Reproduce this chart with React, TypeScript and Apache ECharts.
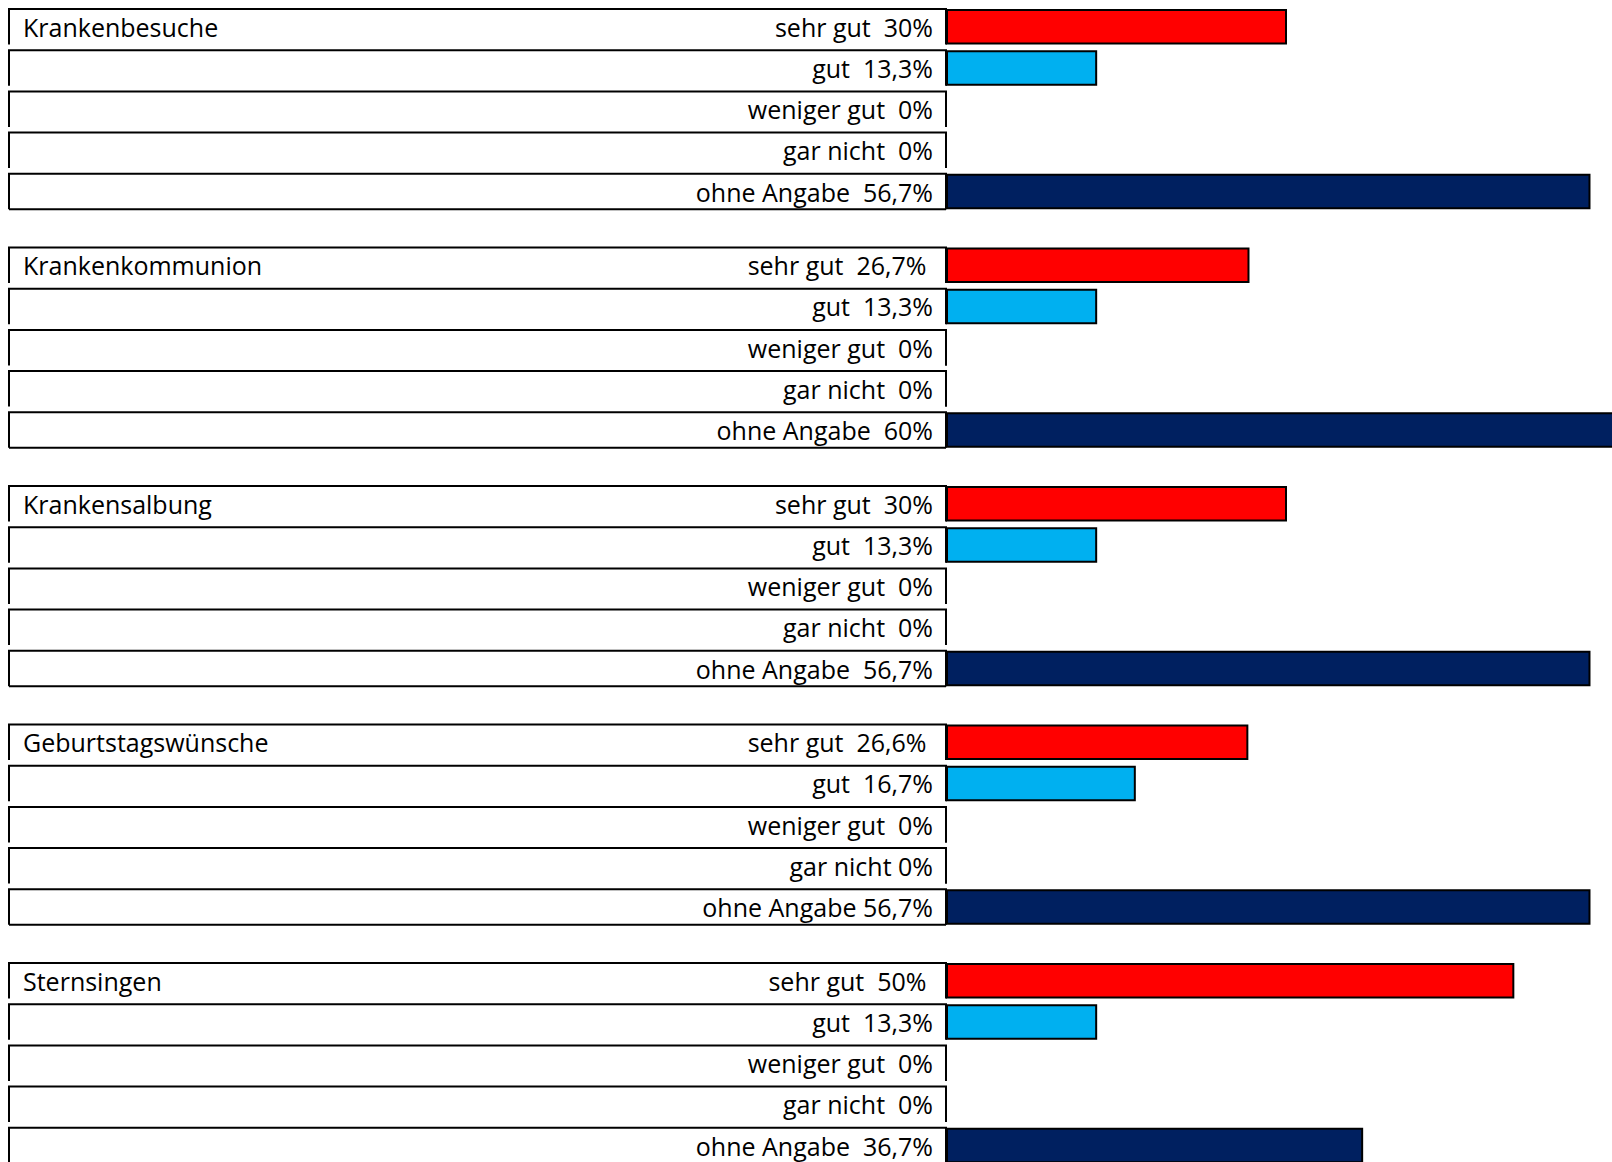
import React, { useEffect, useRef } from "react";
import * as echarts from "echarts";

// ---- data ----
const groupNames = [
  "Krankenbesuche",
  "Krankenkommunion",
  "Krankensalbung",
  "Geburtstagswünsche",
  "Sternsingen",
];
const ratings = ["sehr gut", "gut", "weniger gut", "gar nicht", "ohne Angabe"];

const krankenbesucheValues = [30, 13.3, 0, 0, 56.7];
const krankenkommunionValues = [26.7, 13.3, 0, 0, 60];
const krankensalbungValues = [30, 13.3, 0, 0, 56.7];
const geburtstagswuenscheValues = [26.6, 16.7, 0, 0, 56.7];
const sternsingenValues = [50, 13.3, 0, 0, 36.7];

const krankenbesucheLabels = ["sehr gut  30%", "gut  13,3%", "weniger gut  0%", "gar nicht  0%", "ohne Angabe  56,7%"];
const krankenkommunionLabels = ["sehr gut  26,7% ", "gut  13,3%", "weniger gut  0%", "gar nicht  0%", "ohne Angabe  60%"];
const krankensalbungLabels = ["sehr gut  30%", "gut  13,3%", "weniger gut  0%", "gar nicht  0%", "ohne Angabe  56,7%"];
const geburtstagswuenscheLabels = ["sehr gut  26,6% ", "gut  16,7%", "weniger gut  0%", "gar nicht 0%", "ohne Angabe 56,7%"];
const sternsingenLabels = ["sehr gut  50% ", "gut  13,3%", "weniger gut  0%", "gar nicht  0%", "ohne Angabe  36,7%"];

const groupValues = [
  krankenbesucheValues,
  krankenkommunionValues,
  krankensalbungValues,
  geburtstagswuenscheValues,
  sternsingenValues,
];
const groupLabels = [
  krankenbesucheLabels,
  krankenkommunionLabels,
  krankensalbungLabels,
  geburtstagswuenscheLabels,
  sternsingenLabels,
];
const barColors = ["#FF0000", "#00B0F0", "#FFC000", "#A5A5A5", "#002060"];

// ---- layout ----
const FONT = '"Open Sans", sans-serif';
const FIRST_TOP = 9;
const GROUP_PITCH = 238.5;
const ROW_PITCH = 41.2;
const BOX_H = 35.5;
const CELL_LEFT = 9;
const AXIS_X = 946;
const PLOT_W = 682;

export default function App() {
  const ref = useRef<HTMLDivElement>(null);

  useEffect(() => {
    document.body.style.margin = "0";
    const chart = echarts.init(ref.current as HTMLDivElement, null, { renderer: "svg" });

    const grids: any[] = [];
    const xAxes: any[] = [];
    const yAxes: any[] = [];
    const series: any[] = [];
    const textStyle = { fontFamily: FONT, fontSize: 25, color: "#000", lineHeight: 30 };

    groupNames.forEach((name, g) => {
      const rowTop = FIRST_TOP + g * GROUP_PITCH;
      grids.push({
        left: AXIS_X,
        width: PLOT_W,
        top: rowTop - (ROW_PITCH - BOX_H) / 2,
        height: ROW_PITCH * ratings.length,
        containLabel: false,
        outerBoundsMode: "none",
      });
      xAxes.push({ gridIndex: g, type: "value", min: 0, max: 60, show: false });
      yAxes.push({
        gridIndex: g,
        type: "category",
        inverse: true,
        data: ratings,
        axisLine: { show: false },
        axisTick: { show: false },
        splitLine: { show: false },
        axisLabel: {
          interval: 0,
          margin: 13,
          width: 910,
          align: "right",
          formatter: (_v: string, i: number) =>
            i === 0
              ? `{t|${name}}{v|${groupLabels[g][i]}}`
              : `{v|${groupLabels[g][i]}}`,
          rich: {
            t: { ...textStyle, align: "left" },
            v: { ...textStyle, align: "right" },
          },
        },
      });
      series.push({
        type: "custom",
        xAxisIndex: g,
        yAxisIndex: g,
        clip: false,
        silent: true,
        z: 1,
        data: ratings.map((_r, i) => [0, i]),
        renderItem: (_params: any, api: any) => {
          const idx = api.value(1);
          const p = api.coord([0, idx]);
          const x0 = p[0];
          const yc = p[1];
          const yt = yc - BOX_H / 2;
          const yb = yc + BOX_H / 2;
          const children: any[] = [
            {
              type: "polyline",
              shape: { points: [[CELL_LEFT, yb], [CELL_LEFT, yt], [x0, yt], [x0, yb]] },
              style: { stroke: "#000", lineWidth: 2, fill: null },
            },
          ];
          if (idx === ratings.length - 1) {
            children.push({
              type: "line",
              shape: { x1: CELL_LEFT, y1: yb, x2: x0, y2: yb },
              style: { stroke: "#000", lineWidth: 2 },
            });
          }
          return { type: "group", children };
        },
      });
      series.push({
        type: "bar",
        xAxisIndex: g,
        yAxisIndex: g,
        z: 2,
        clip: false,
        barWidth: BOX_H,
        itemStyle: { borderColor: "#000", borderWidth: 2 },
        data: groupValues[g].map((v, i) => ({ value: v, itemStyle: { color: barColors[i] } })),
      });
    });

    chart.setOption({
      animation: false,
      backgroundColor: "#fff",
      grid: grids,
      xAxis: xAxes,
      yAxis: yAxes,
      series,
    });
    return () => chart.dispose();
  }, []);

  return <div ref={ref} style={{ width: 1612, height: 1162 }} />;
}
